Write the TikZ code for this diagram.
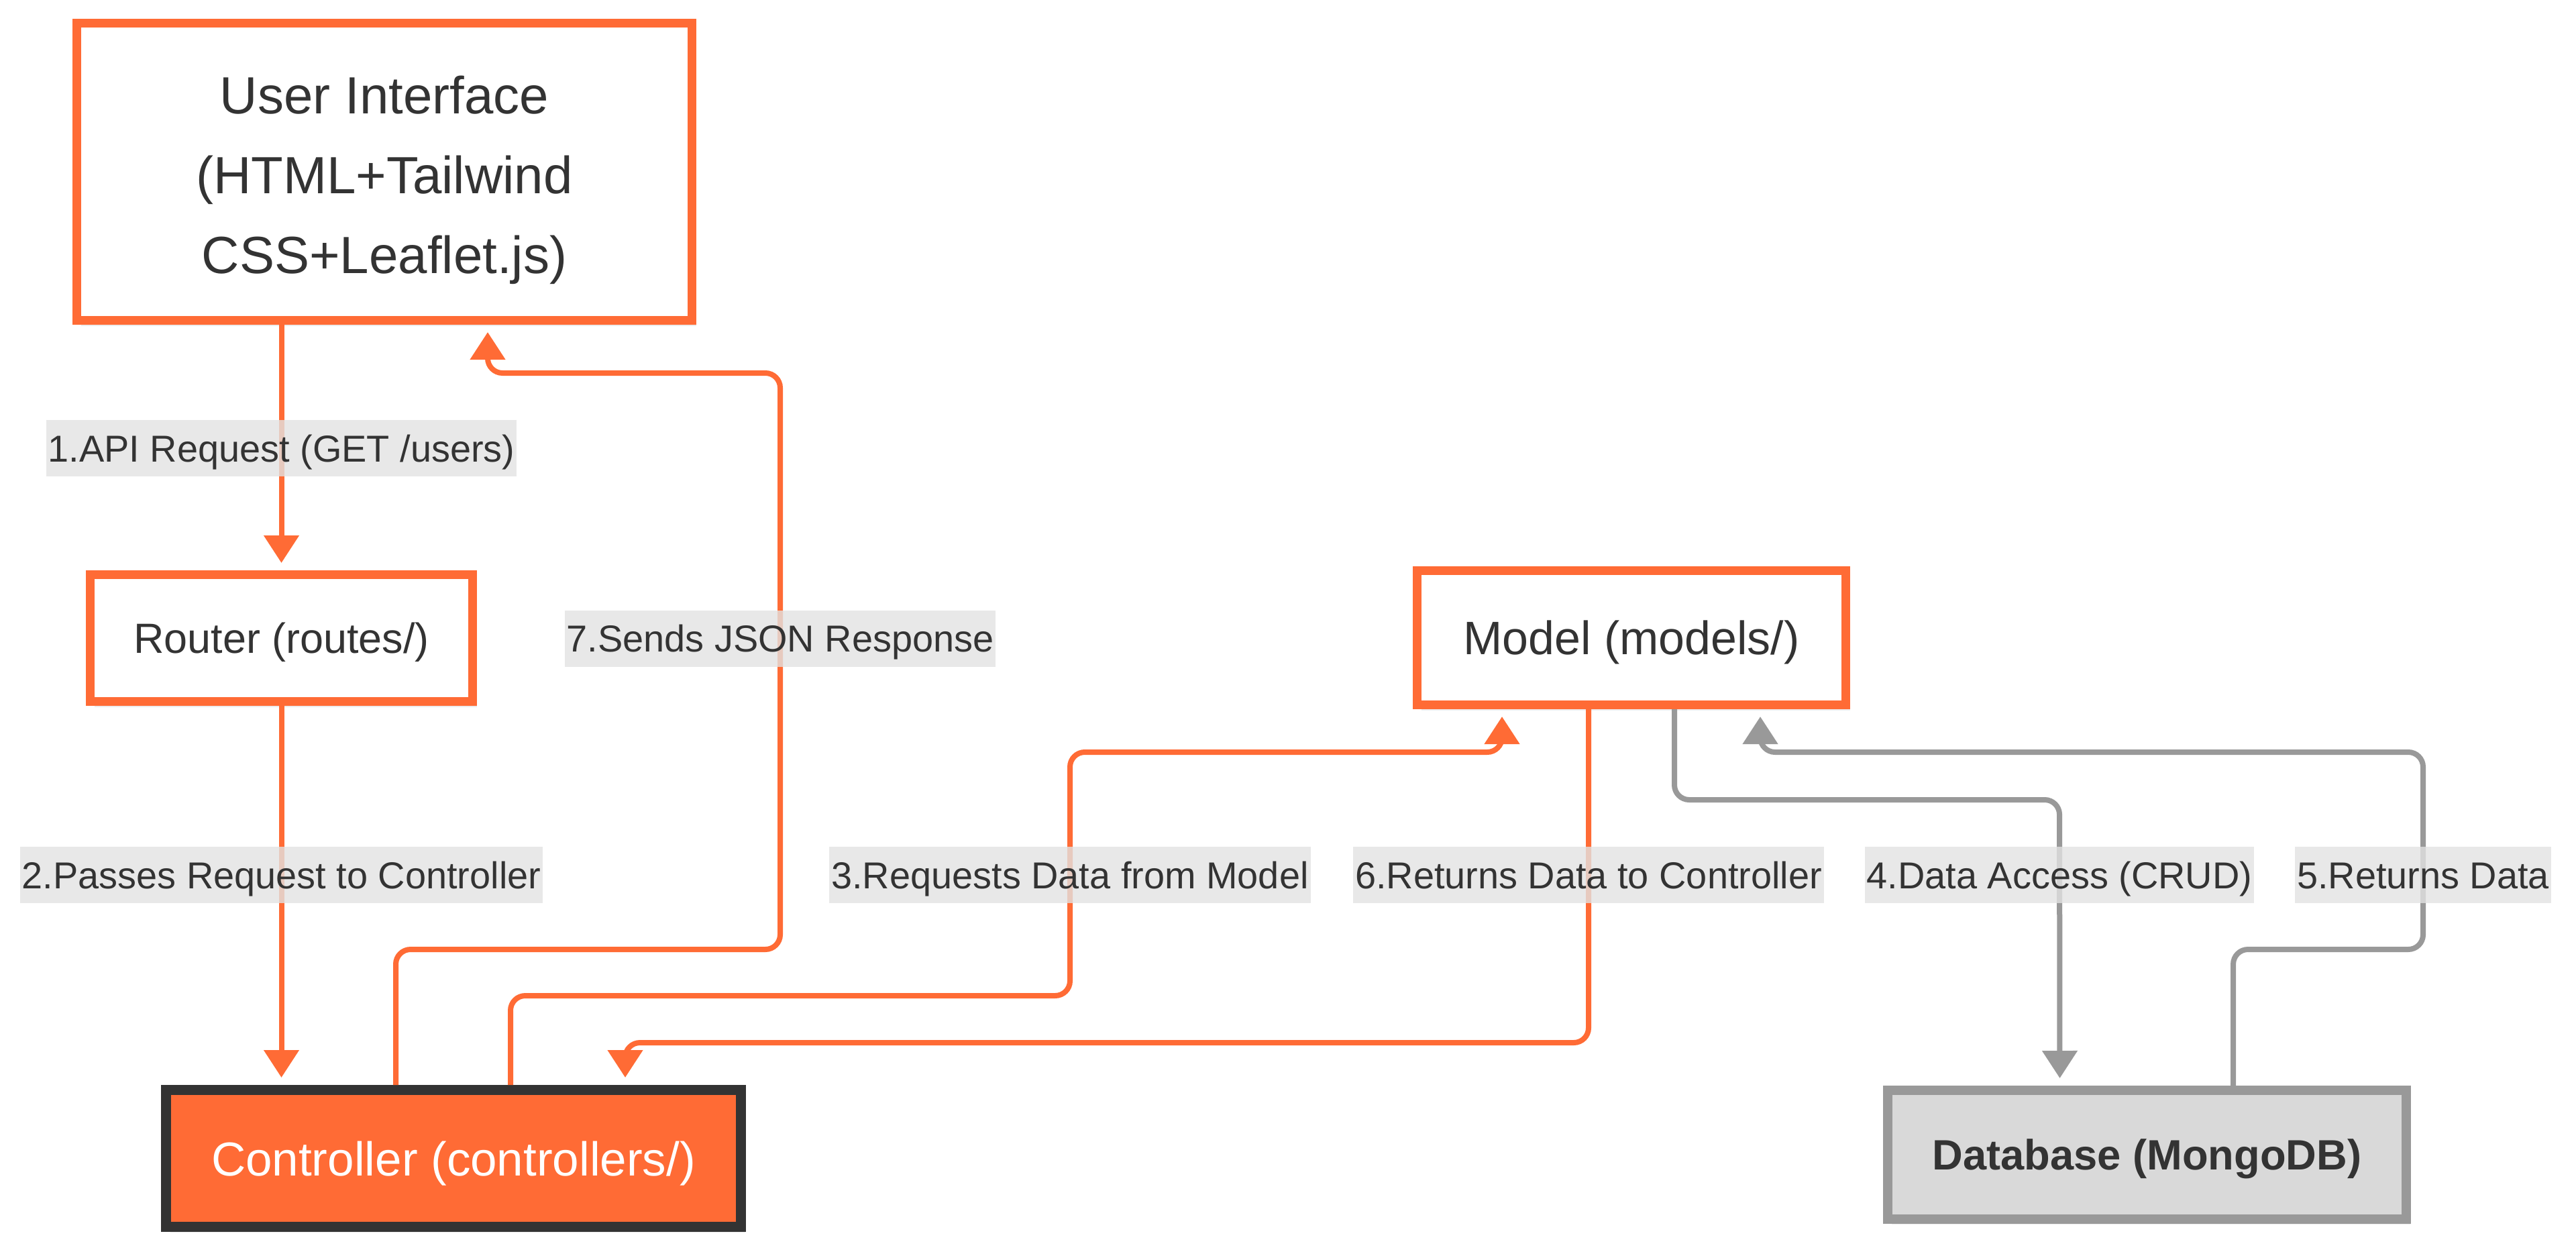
\documentclass[tikz,border=0pt]{standalone}
\usepackage{fontspec}
\setmainfont{Liberation Sans}
\usetikzlibrary{calc,arrows.meta,shadows}
\definecolor{orng}{HTML}{FF6B35}
\definecolor{txtgray}{HTML}{333333}
\definecolor{lnkgray}{HTML}{999999}
\definecolor{dbfill}{HTML}{D9D9D9}
\definecolor{lblfill}{HTML}{E2E2E2}

\begin{document}
\begin{tikzpicture}[
        box/.style={draw=orng, line width=0.13cm, fill=white, text=txtgray, align=center, inner sep=0pt,
            drop shadow={opacity=0.15, shadow xshift=0.06cm, shadow yshift=-0.08cm}},
        lnk/.style={draw=orng, line width=0.08cm, rounded corners=0.22cm,
            -{Triangle[length=0.41cm,width=0.51cm]}, shorten >=0.11cm},
        glnk/.style={lnk, draw=lnkgray},
        lbl/.style={fill=lblfill, fill opacity=0.8, text opacity=1, text=txtgray,
            font=\fontsize{15.9}{19}\selectfont, inner xsep=0.03cm, inner ysep=0pt,
            text height=0.62cm, text depth=0.22cm}
    ]
        \useasboundingbox (0,0) rectangle (38.4,-18.65);

        \node[box, minimum width=9.17cm, minimum height=4.43cm, font=\fontsize{22.2}{33.9}\selectfont] (ui) at (5.73,-2.56)
            {\rule{0pt}{0.81cm}User Interface\\(HTML+Tailwind\\CSS+Leaflet.js)};
        \node[box, minimum width=5.70cm, minimum height=1.89cm, font=\fontsize{17.9}{21}\selectfont,
            text height=0.585cm, text depth=0.134cm] (router) at (4.195,-9.51) {Router (routes/)};
        \node[box, draw=txtgray, fill=orng, text=white, line width=0.15cm, minimum width=8.57cm, minimum height=2.04cm,
            font=\fontsize{20.2}{24}\selectfont, text height=0.66cm, text depth=0.15cm] (ctrl) at (6.76,-17.265)
            {Controller (controllers/)};
        \node[box, minimum width=6.39cm, minimum height=2.00cm, font=\fontsize{19.9}{24}\selectfont,
            text height=0.65cm, text depth=0.148cm] (model) at (24.32,-9.505) {Model (models/)};
        \node[box, draw=lnkgray, fill=dbfill, line width=0.14cm, minimum width=7.73cm, minimum height=1.92cm,
            font=\fontsize{18}{22}\selectfont\bfseries, text height=0.585cm, text depth=0.134cm] (db) at (32.005,-17.21)
            {Database (MongoDB)};

        % request path
        \draw[lnk] (ui.south -| router.north) -- (router.north);
        \draw[lnk] (router.south) -- (router.south |- ctrl.north);
        \draw[lnk] ($(ctrl.north)+(0.85,0)$) |- (15.95,-14.84) |- (22.39,-11.21) -- ($(model.south)+(-1.93,0)$);
        \draw[glnk] ($(model.south)+(0.64,0)$) |- (30.70,-11.92) -- ($(db.north)+(-1.30,0)$);
        % return path
        \draw[glnk] ($(db.north)+(1.285,0)$) |- (36.12,-14.15) |- (26.24,-11.21) -- ($(model.south)+(1.92,0)$);
        \draw[lnk] ($(model.south)+(-0.64,0)$) |- (9.32,-15.54) -- ($(ctrl.north)+(2.56,0)$);
        \draw[lnk] ($(ctrl.north)+(-0.86,0)$) |- (11.63,-14.15) |- (7.27,-5.56) -- ($(ui.south)+(1.54,0)$);

        \node[lbl] (l1) at (router.north |- 0,-6.68) {1.API Request (GET /users)};
        \node[lbl] (l2) at (router.south |- 0,-13.04) {2.Passes Request to Controller};
        \node[lbl] (l3) at (15.95,-13.04) {3.Requests Data from Model};
        \node[lbl] (l4) at (30.70,-13.04) {4.Data Access (CRUD)};
        \node[lbl] (l5) at (36.12,-13.04) {5.Returns Data};
        \node[lbl] (l6) at (23.68,-13.04) {6.Returns Data to Controller};
        \node[lbl] (l7) at (11.63,-9.515) {7.Sends JSON Response};
    \end{tikzpicture}
\end{document}
